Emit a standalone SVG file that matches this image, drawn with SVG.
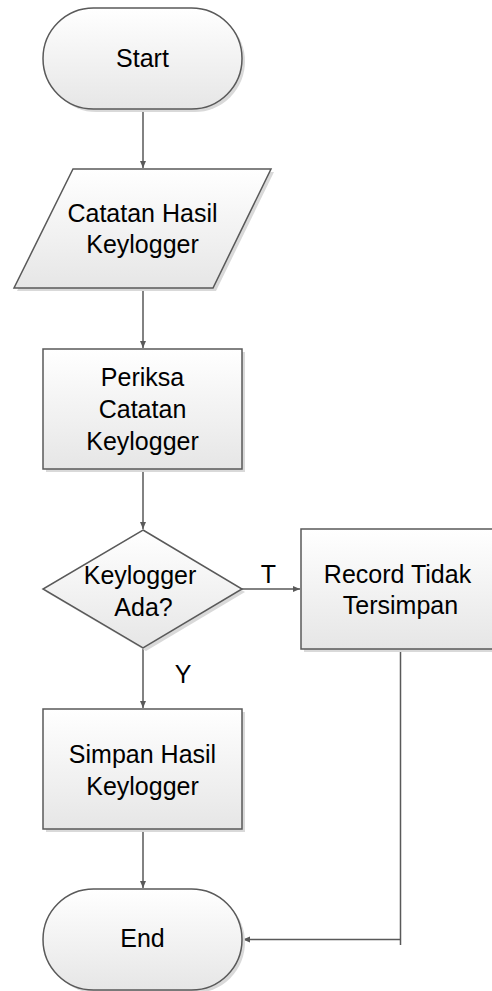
<svg xmlns="http://www.w3.org/2000/svg" width="492" height="991" viewBox="0 0 492 991">
<style>
.shape{stroke:#595959;stroke-width:1.5;fill:url(#g)}
.shadow{fill:#d9d9d9;stroke:none}
.t{font-family:"Liberation Sans",Arial,sans-serif;font-size:25px;fill:#000;text-anchor:middle}
.c{fill:none;stroke:#595959;stroke-width:1.5}
</style>
<defs>
<linearGradient id="g" x1="0" y1="0" x2="0" y2="1">
<stop offset="0" stop-color="#ffffff"/>
<stop offset="1" stop-color="#e6e6e6"/>
</linearGradient>
<marker id="a" markerWidth="8" markerHeight="8" refX="7" refY="4" orient="auto" markerUnits="userSpaceOnUse">
<path d="M0,1 L7,4 L0,7 Z" fill="#595959"/>
</marker>
</defs>
<g id="connectors">
<line class="c" x1="143" y1="109" x2="143" y2="168" marker-end="url(#a)"/>
<line class="c" x1="143" y1="288" x2="143" y2="348" marker-end="url(#a)"/>
<line class="c" x1="143" y1="469" x2="143" y2="529" marker-end="url(#a)"/>
<line class="c" x1="242" y1="589" x2="300" y2="589" marker-end="url(#a)"/>
<line class="c" x1="143" y1="648" x2="143" y2="708" marker-end="url(#a)"/>
<line class="c" x1="143" y1="829" x2="143" y2="888" marker-end="url(#a)"/>
<line class="c" x1="400.5" y1="649" x2="400.5" y2="945"/>
<line class="c" x1="400.5" y1="939.5" x2="243" y2="939.5" marker-end="url(#a)"/>
<text class="t" x="268.5" y="583">T</text>
<text class="t" x="183" y="683">Y</text>
</g>
<g id="start">
<rect class="shadow" x="46" y="11" width="199" height="101" rx="50.5"/>
<rect class="shape" x="43" y="8" width="199" height="101" rx="50.5"/>
<text class="t" x="142.5" y="67">Start</text>
</g>
<g id="input">
<polygon class="shadow" points="76,172 274,172 216,291 17,291"/>
<polygon class="shape" points="73,169 271,169 213,288 14,288"/>
<text class="t" x="142.5" y="222">Catatan Hasil</text>
<text class="t" x="142.5" y="253">Keylogger</text>
</g>
<g id="periksa">
<rect class="shadow" x="46" y="352" width="199" height="120"/>
<rect class="shape" x="43" y="349" width="199" height="120"/>
<text class="t" x="142.5" y="386">Periksa</text>
<text class="t" x="142.5" y="418">Catatan</text>
<text class="t" x="142.5" y="450">Keylogger</text>
</g>
<g id="decision">
<polygon class="shadow" points="146,533 245,592 146,651 46,592"/>
<polygon class="shape" points="143,530 242,589 143,648 43,589"/>
<text class="t" x="140" y="584">Keylogger</text>
<text class="t" x="143.5" y="616">Ada?</text>
</g>
<g id="record">
<rect class="shadow" x="304" y="532" width="199" height="120"/>
<rect class="shape" x="301" y="529" width="199" height="120"/>
<text class="t" x="397.5" y="583">Record Tidak</text>
<text class="t" x="400.5" y="614">Tersimpan</text>
</g>
<g id="simpan">
<rect class="shadow" x="46" y="712" width="199" height="120"/>
<rect class="shape" x="43" y="709" width="199" height="120"/>
<text class="t" x="142.5" y="763">Simpan Hasil</text>
<text class="t" x="142.5" y="795">Keylogger</text>
</g>
<g id="end">
<rect class="shadow" x="46" y="892" width="199" height="101" rx="50.5"/>
<rect class="shape" x="43" y="889" width="199" height="101" rx="50.5"/>
<text class="t" x="142.5" y="947">End</text>
</g>
</svg>
